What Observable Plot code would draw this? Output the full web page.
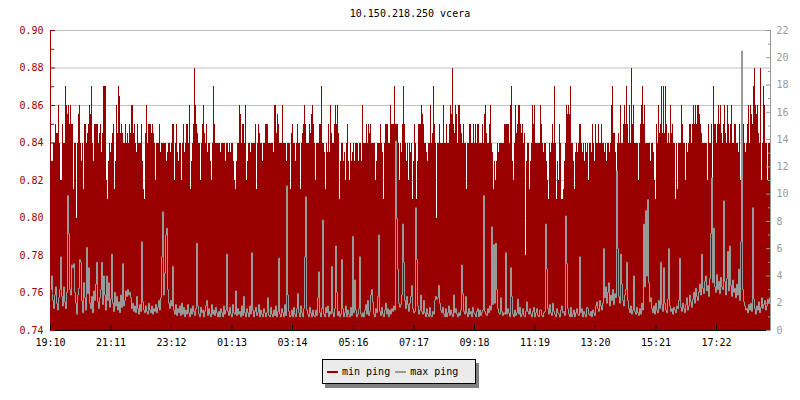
<!DOCTYPE html>
<html><head><meta charset="utf-8">
<script src="https://cdn.jsdelivr.net/npm/d3@7"></script>
<script src="https://cdn.jsdelivr.net/npm/@observablehq/plot@0.6"></script>
<style>
body{margin:0;background:#fff;}
#wrap{position:relative;width:800px;height:400px;font-family:"DejaVu Sans Mono",monospace;font-size:10px;color:#000;}
#title{position:absolute;left:50px;width:720px;top:7.5px;text-align:center;line-height:12px;}
#chart{position:absolute;left:0;top:0;}
#legend{position:absolute;left:322px;top:359px;width:154px;height:25px;box-sizing:border-box;border:1px solid #000;background:#ebebeb;box-shadow:3px 4px 0 #808080;display:flex;align-items:center;padding-left:4px;line-height:12px;}
.sw{display:inline-block;width:11px;height:2px;margin-right:4px;}
.lab{margin-right:5px;}
</style></head>
<body>
<div id="wrap">
  <div id="chart"></div>
  <div id="title"></div>
  <div id="legend"></div>
</div>
<script>
const titleText = "10.150.218.250 vcera";
const seriesNames = ["min ping", "max ping"];
const seriesColors = ["#990000", "#999999"];
const xTickLabels = ["19:10","21:11","23:12","01:13","03:14","05:16","07:17","09:18","11:19","13:20","15:21","17:22"];
const leftDomain = [0.74, 0.90];
const rightDomain = [0, 22];
const sampleMinutes = 2;
const dayMinutes = 1440;

// min ping (ms), one sample every 2 minutes from 19:10
const minPing = [
0.83,0.83,0.83,0.84,0.84,0.85,0.845,0.845,0.86,0.84,0.82,0.82,0.85,0.84,0.84,0.87,0.86,0.855,0.86,0.85,0.86,0.85,0.85,0.815,
0.84,0.84,0.80,0.84,0.855,0.86,0.84,0.83,0.84,0.815,0.85,0.85,0.84,0.845,0.85,0.86,0.855,0.87,0.84,0.83,0.85,0.85,0.85,0.85,
0.84,0.845,0.85,0.835,0.845,0.87,0.87,0.87,0.82,0.81,0.83,0.84,0.835,0.84,0.845,0.85,0.815,0.83,0.86,0.845,0.87,0.865,0.845,0.85,
0.845,0.84,0.84,0.85,0.84,0.845,0.84,0.85,0.845,0.86,0.86,0.845,0.85,0.84,0.835,0.85,0.84,0.84,0.84,0.85,0.83,0.815,0.81,0.845,
0.86,0.84,0.85,0.85,0.85,0.845,0.85,0.845,0.84,0.82,0.84,0.84,0.84,0.85,0.835,0.84,0.84,0.84,0.84,0.84,0.83,0.835,0.84,0.84,
0.835,0.84,0.85,0.85,0.82,0.84,0.85,0.835,0.83,0.84,0.84,0.82,0.84,0.85,0.835,0.84,0.85,0.85,0.84,0.86,0.815,0.83,0.84,0.85,
0.88,0.86,0.85,0.845,0.84,0.84,0.82,0.84,0.85,0.86,0.845,0.84,0.85,0.835,0.84,0.84,0.83,0.82,0.84,0.87,0.85,0.84,0.84,0.84,
0.84,0.84,0.835,0.84,0.84,0.84,0.84,0.83,0.84,0.84,0.835,0.84,0.835,0.84,0.84,0.83,0.82,0.815,0.83,0.84,0.84,0.86,0.855,0.84,
0.85,0.85,0.84,0.86,0.82,0.83,0.84,0.84,0.835,0.84,0.84,0.84,0.84,0.85,0.815,0.84,0.85,0.845,0.84,0.84,0.83,0.84,0.84,0.85,
0.85,0.85,0.84,0.84,0.84,0.84,0.84,0.835,0.86,0.86,0.845,0.855,0.85,0.84,0.84,0.84,0.86,0.84,0.84,0.84,0.83,0.84,0.84,0.84,
0.815,0.845,0.85,0.84,0.84,0.83,0.84,0.85,0.84,0.84,0.815,0.84,0.845,0.85,0.86,0.85,0.84,0.84,0.84,0.85,0.845,0.855,0.86,0.85,
0.84,0.82,0.84,0.84,0.84,0.85,0.85,0.87,0.84,0.84,0.835,0.815,0.84,0.835,0.85,0.835,0.86,0.845,0.84,0.84,0.85,0.86,0.85,0.86,
0.845,0.81,0.83,0.84,0.84,0.83,0.835,0.82,0.84,0.85,0.83,0.82,0.84,0.83,0.835,0.84,0.83,0.84,0.84,0.84,0.83,0.84,0.84,0.83,
0.86,0.84,0.84,0.84,0.85,0.84,0.85,0.845,0.85,0.84,0.84,0.84,0.84,0.82,0.83,0.84,0.84,0.84,0.85,0.84,0.835,0.81,0.84,0.85,
0.85,0.85,0.84,0.84,0.86,0.85,0.85,0.85,0.87,0.85,0.85,0.85,0.84,0.82,0.84,0.835,0.85,0.87,0.85,0.84,0.83,0.84,0.82,0.84,
0.835,0.84,0.81,0.83,0.85,0.84,0.81,0.83,0.85,0.85,0.85,0.86,0.855,0.85,0.84,0.84,0.835,0.83,0.84,0.84,0.86,0.84,0.845,0.87,
0.85,0.84,0.80,0.84,0.84,0.85,0.84,0.84,0.84,0.86,0.84,0.84,0.85,0.84,0.84,0.85,0.86,0.855,0.88,0.85,0.845,0.86,0.855,0.84,
0.86,0.86,0.85,0.845,0.84,0.85,0.84,0.84,0.815,0.84,0.84,0.85,0.85,0.84,0.84,0.85,0.84,0.85,0.84,0.85,0.85,0.84,0.84,0.84,
0.85,0.84,0.855,0.86,0.845,0.84,0.84,0.85,0.86,0.84,0.835,0.815,0.83,0.82,0.83,0.84,0.835,0.84,0.84,0.84,0.84,0.84,0.85,0.85,
0.85,0.85,0.85,0.84,0.86,0.87,0.83,0.82,0.84,0.86,0.845,0.85,0.86,0.86,0.85,0.845,0.85,0.84,0.845,0.78,0.83,0.84,0.84,0.815,
0.83,0.84,0.86,0.85,0.86,0.84,0.84,0.84,0.84,0.84,0.86,0.85,0.84,0.835,0.84,0.84,0.83,0.82,0.81,0.84,0.835,0.84,0.85,0.84,
0.87,0.84,0.81,0.83,0.82,0.85,0.84,0.81,0.81,0.815,0.83,0.84,0.86,0.855,0.86,0.855,0.87,0.84,0.84,0.83,0.815,0.835,0.84,0.835,
0.84,0.85,0.85,0.84,0.835,0.84,0.83,0.84,0.835,0.84,0.82,0.84,0.84,0.835,0.85,0.84,0.83,0.85,0.84,0.84,0.85,0.84,0.84,0.85,
0.84,0.84,0.835,0.84,0.83,0.84,0.84,0.835,0.84,0.86,0.87,0.845,0.845,0.835,0.81,0.84,0.845,0.84,0.86,0.84,0.84,0.85,0.86,0.85,
0.87,0.85,0.84,0.86,0.84,0.88,0.85,0.86,0.84,0.84,0.84,0.84,0.82,0.84,0.85,0.86,0.87,0.85,0.86,0.84,0.84,0.84,0.84,0.84,
0.83,0.84,0.84,0.835,0.82,0.81,0.85,0.84,0.86,0.845,0.85,0.87,0.845,0.87,0.845,0.87,0.85,0.84,0.845,0.84,0.86,0.845,0.85,0.84,
0.84,0.81,0.84,0.815,0.84,0.84,0.84,0.86,0.85,0.84,0.84,0.82,0.84,0.835,0.84,0.85,0.85,0.84,0.85,0.86,0.85,0.86,0.85,0.86,
0.86,0.855,0.85,0.845,0.84,0.84,0.84,0.84,0.84,0.82,0.85,0.84,0.84,0.85,0.81,0.87,0.85,0.85,0.84,0.85,0.86,0.85,0.86,0.845,
0.84,0.85,0.86,0.845,0.84,0.86,0.85,0.84,0.85,0.86,0.84,0.84,0.85,0.85,0.84,0.84,0.835,0.85,0.82,0.86,0.84,0.85,0.84,0.835,
0.84,0.85,0.86,0.84,0.86,0.855,0.85,0.87,0.88,0.86,0.855,0.86,0.845,0.84,0.88,0.82,0.84,0.87,0.86,0.84,0.84,0.82,0.84,0.84
];

// max ping (ms), right axis
const maxPing = [
3.0,4.0,2.2,1.6,2.6,3.2,2.0,1.5,2.4,3.0,5.4,2.5,1.8,3.2,2.1,1.6,2.8,9.9,7.1,3.0,2.6,4.8,4.6,4.9,
2.8,2.0,1.2,2.6,3.1,5.2,5.0,2.2,1.3,3.5,2.4,1.5,6.1,2.7,4.6,2.0,1.6,2.5,1.3,2.9,2.2,3.4,5.0,2.1,
1.6,2.4,3.0,5.0,1.9,4.0,2.6,1.5,4.0,2.2,3.5,1.7,2.3,5.6,2.0,1.4,2.8,1.8,2.5,1.5,2.1,1.3,2.6,1.7,
4.9,1.8,2.2,2.9,2.5,3.0,2.6,2.8,2.4,1.6,2.0,1.4,1.8,1.3,2.5,1.6,1.2,1.9,1.4,6.5,2.1,1.5,1.3,1.8,
1.4,1.2,2.0,1.5,1.3,1.8,1.2,1.6,1.4,1.9,1.3,1.7,2.2,1.5,2.4,5.4,8.7,2.6,4.2,7.0,7.5,3.0,2.0,1.6,
2.2,1.8,4.7,1.5,1.2,1.9,1.1,1.6,1.3,1.8,1.1,2.0,1.2,1.7,1.0,1.5,1.2,1.9,1.3,1.0,1.6,1.2,1.8,1.4,
1.1,1.6,6.4,1.8,1.2,1.0,1.7,1.3,1.5,1.0,1.4,1.8,2.2,1.1,1.6,1.2,1.0,1.9,1.2,1.5,1.1,1.7,1.3,1.0,
1.4,1.0,1.6,1.3,1.0,1.8,1.2,1.5,5.6,1.4,1.1,1.7,1.2,1.0,1.9,1.3,1.2,2.9,1.1,1.6,1.2,1.4,1.0,1.8,
1.1,2.5,1.3,1.0,1.6,1.3,1.0,1.8,1.2,5.7,1.5,1.0,1.4,1.7,1.1,1.3,1.9,1.0,1.5,1.2,1.0,1.6,1.3,1.0,
1.3,2.4,1.1,1.0,1.7,1.2,1.0,1.5,1.1,1.8,1.0,1.4,5.3,1.2,1.0,1.6,1.3,1.0,1.9,1.1,10.6,2.6,1.4,1.0,
1.1,1.5,1.0,1.7,1.2,1.0,1.6,2.7,1.3,1.0,1.8,1.3,1.0,1.6,5.4,9.8,1.5,1.2,1.0,1.7,1.3,1.0,1.5,1.1,
1.0,1.5,1.1,2.4,4.3,1.3,1.0,1.6,8.1,1.2,1.0,1.7,1.3,1.8,1.0,1.4,1.2,4.7,1.3,1.0,1.6,6.2,2.8,1.1,
1.4,1.0,1.2,5.2,1.6,1.0,1.3,1.8,1.0,1.5,1.2,1.0,1.7,1.1,6.9,1.3,3.7,1.5,1.0,1.2,1.6,5.4,1.2,1.0,
1.3,1.0,1.5,1.9,1.2,2.2,1.1,1.4,2.6,3.0,2.1,1.2,1.0,1.6,1.3,2.5,7.0,1.4,1.1,1.7,1.2,1.0,1.5,2.0,
1.2,1.6,1.0,1.5,1.2,1.6,1.4,1.8,1.5,13.9,8.2,4.5,2.0,1.7,1.9,2.6,7.8,5.0,2.2,1.6,2.5,1.9,1.4,2.0,
2.5,3.3,1.6,1.3,1.4,9.0,5.2,1.8,1.2,1.5,2.6,1.4,1.2,2.2,1.3,1.0,1.6,1.2,1.0,1.7,1.1,1.0,1.4,1.2,
2.2,2.5,2.3,2.4,3.3,2.0,1.5,1.3,1.7,1.2,1.0,1.6,1.0,1.3,1.8,1.1,1.5,1.2,1.0,2.6,1.3,1.6,1.2,1.0,
1.3,1.1,1.5,4.8,2.7,1.4,1.2,2.5,1.3,1.0,1.6,1.2,1.4,1.0,1.7,1.3,1.2,1.0,1.4,1.6,1.0,1.5,1.1,1.3,
1.5,9.9,1.4,1.2,1.1,1.6,1.3,1.8,1.5,7.6,1.9,6.3,2.0,6.4,3.0,1.6,1.3,1.2,2.4,1.4,1.1,1.3,1.2,5.7,
1.2,1.6,1.3,1.0,4.6,2.5,1.2,1.0,1.5,1.1,1.3,2.3,1.2,1.7,1.0,1.2,1.6,1.1,1.0,1.4,2.1,1.4,1.2,1.6,
1.2,1.0,1.4,1.7,1.0,1.3,1.6,1.1,1.0,1.5,1.5,1.1,1.0,1.3,1.4,7.8,4.5,1.6,1.2,1.9,1.3,1.1,2.0,1.4,
1.2,1.0,1.6,1.3,1.2,1.0,1.5,1.8,1.3,1.4,1.1,8.4,4.9,1.6,1.2,1.0,1.7,1.0,1.2,1.5,1.0,1.3,1.6,1.2,
1.1,5.4,1.3,1.6,1.0,1.4,1.2,1.0,1.7,1.6,1.2,1.1,1.4,1.0,1.5,1.3,1.1,1.8,2.1,1.6,1.4,2.2,1.8,1.5,
2.0,6.0,2.4,3.2,2.0,2.8,3.5,1.8,2.6,2.2,3.0,1.9,2.7,2.4,11.7,6.0,2.5,2.0,5.6,3.4,2.2,1.8,2.6,3.0,
5.0,2.2,1.6,1.3,1.8,1.2,1.5,4.0,1.4,1.2,1.7,1.3,1.1,1.6,1.2,2.0,1.5,7.8,3.2,8.8,4.0,9.6,3.5,2.1,
2.4,1.6,1.3,1.8,1.2,2.0,1.5,1.3,2.2,1.6,5.0,1.9,1.4,4.6,2.0,1.5,1.3,2.3,6.0,1.8,1.4,1.6,1.2,1.7,
1.5,1.3,1.8,1.6,2.2,5.3,1.7,1.4,2.0,1.6,1.3,1.9,2.4,1.5,1.8,2.6,2.1,1.7,2.3,2.8,2.0,3.1,2.5,2.2,
2.8,3.4,2.6,5.6,3.1,2.7,3.6,4.0,2.9,3.3,2.5,3.8,7.1,11.2,3.5,7.5,3.2,2.8,4.1,3.0,3.6,2.7,3.9,3.2,
3.0,9.5,3.6,2.6,3.8,5.8,2.9,6.2,3.3,2.5,3.7,2.8,3.1,2.4,3.4,2.6,4.5,2.2,6.5,20.5,3.0,2.1,1.8,1.5,
1.6,1.3,1.9,1.5,2.0,1.4,9.0,2.3,1.6,1.2,1.8,1.5,2.1,1.3,1.7,2.4,1.6,1.9,2.2,1.5,1.8,2.3,2.0,2.4
];

const red = seriesColors[0], gray = seriesColors[1];
const [y0, y1] = leftDomain;
const toLeft = v => y0 + (v - rightDomain[0]) * (y1 - y0) / (rightDomain[1] - rightDomain[0]);
const toRight = d => Math.round(rightDomain[0] + (d - y0) * (rightDomain[1] - rightDomain[0]) / (y1 - y0));

const minRows = minPing.map((v, i) => ({t: i * sampleMinutes, v}));
const maxRows = maxPing.map((v, i) => ({t: i * sampleMinutes + sampleMinutes / 2, v: toLeft(v)}));

const startMin = (() => { const [h, m] = xTickLabels[0].split(":").map(Number); return h * 60 + m; })();
const xTickPos = xTickLabels.map(s => { const [h, m] = s.split(":").map(Number); return ((h * 60 + m) - startMin + dayMinutes) % dayMinutes; });

const leftMajor = d3.range(0, 9).map(k => +(y0 + k * 0.02).toFixed(2));
const leftMinor = d3.range(0, 8).map(k => +(y0 + 0.01 + k * 0.02).toFixed(3));
const gridVals = leftMajor.slice(1);
const rightMajor = d3.range(rightDomain[0], rightDomain[1] + 1, 2).map(toLeft);
const rightMinor = d3.range(rightDomain[0] + 1, rightDomain[1], 2).map(toLeft);

const chart = Plot.plot({
  width: 800, height: 355,
  marginTop: 30, marginBottom: 25, marginLeft: 50, marginRight: 30,
  x: {domain: [0, dayMinutes], axis: null},
  y: {domain: leftDomain, axis: null},
  style: {fontFamily: '"DejaVu Sans Mono", monospace', fontSize: "10px", background: "transparent", color: "#000"},
  marks: [
    Plot.ruleY(gridVals, {stroke: "#c0c0c0"}),
    Plot.rectY(minRows, {x1: "t", x2: d => d.t + sampleMinutes, y1: y0, y2: "v", fill: red, shapeRendering: "crispEdges"}),
    Plot.line(maxRows, {x: "t", y: "v", stroke: gray, strokeWidth: 1, curve: "step"}),
    Plot.ruleX([0], {stroke: red}),
    Plot.ruleX([dayMinutes], {stroke: gray}),
    Plot.ruleY([y0], {stroke: "#000"}),
    Plot.axisY(leftMajor, {anchor: "left", tickSize: -5, stroke: red, fill: "none", label: null}),
    Plot.axisY(leftMinor, {anchor: "left", tickSize: -4, stroke: red, fill: "none", label: null}),
    Plot.axisY(leftMajor, {anchor: "left", tickSize: 0, tickPadding: 7, tickFormat: d3.format(".2f"), fill: red, stroke: "none", label: null}),
    Plot.axisY(rightMajor, {anchor: "right", tickSize: -5, stroke: gray, fill: "none", label: null}),
    Plot.axisY(rightMinor, {anchor: "right", tickSize: -3, stroke: gray, fill: "none", label: null}),
    Plot.axisY(rightMajor, {anchor: "right", tickSize: 0, tickPadding: 6, tickFormat: toRight, fill: gray, stroke: "none", label: null}),
    Plot.axisX(xTickPos, {anchor: "bottom", tickSize: -5, stroke: "#000", fill: "none", label: null}),
    Plot.axisX(xTickPos, {anchor: "bottom", tickSize: 0, tickPadding: 8, tickFormat: d => xTickLabels[xTickPos.indexOf(d)], fill: "#000", stroke: "none", label: null})
  ]
});
document.getElementById("chart").appendChild(chart);
document.getElementById("title").textContent = titleText;

const legend = document.getElementById("legend");
seriesNames.forEach((name, i) => {
  const sw = document.createElement("span");
  sw.className = "sw";
  sw.style.background = seriesColors[i];
  const lab = document.createElement("span");
  lab.className = "lab";
  lab.textContent = name;
  legend.appendChild(sw);
  legend.appendChild(lab);
});
</script>
</body></html>
